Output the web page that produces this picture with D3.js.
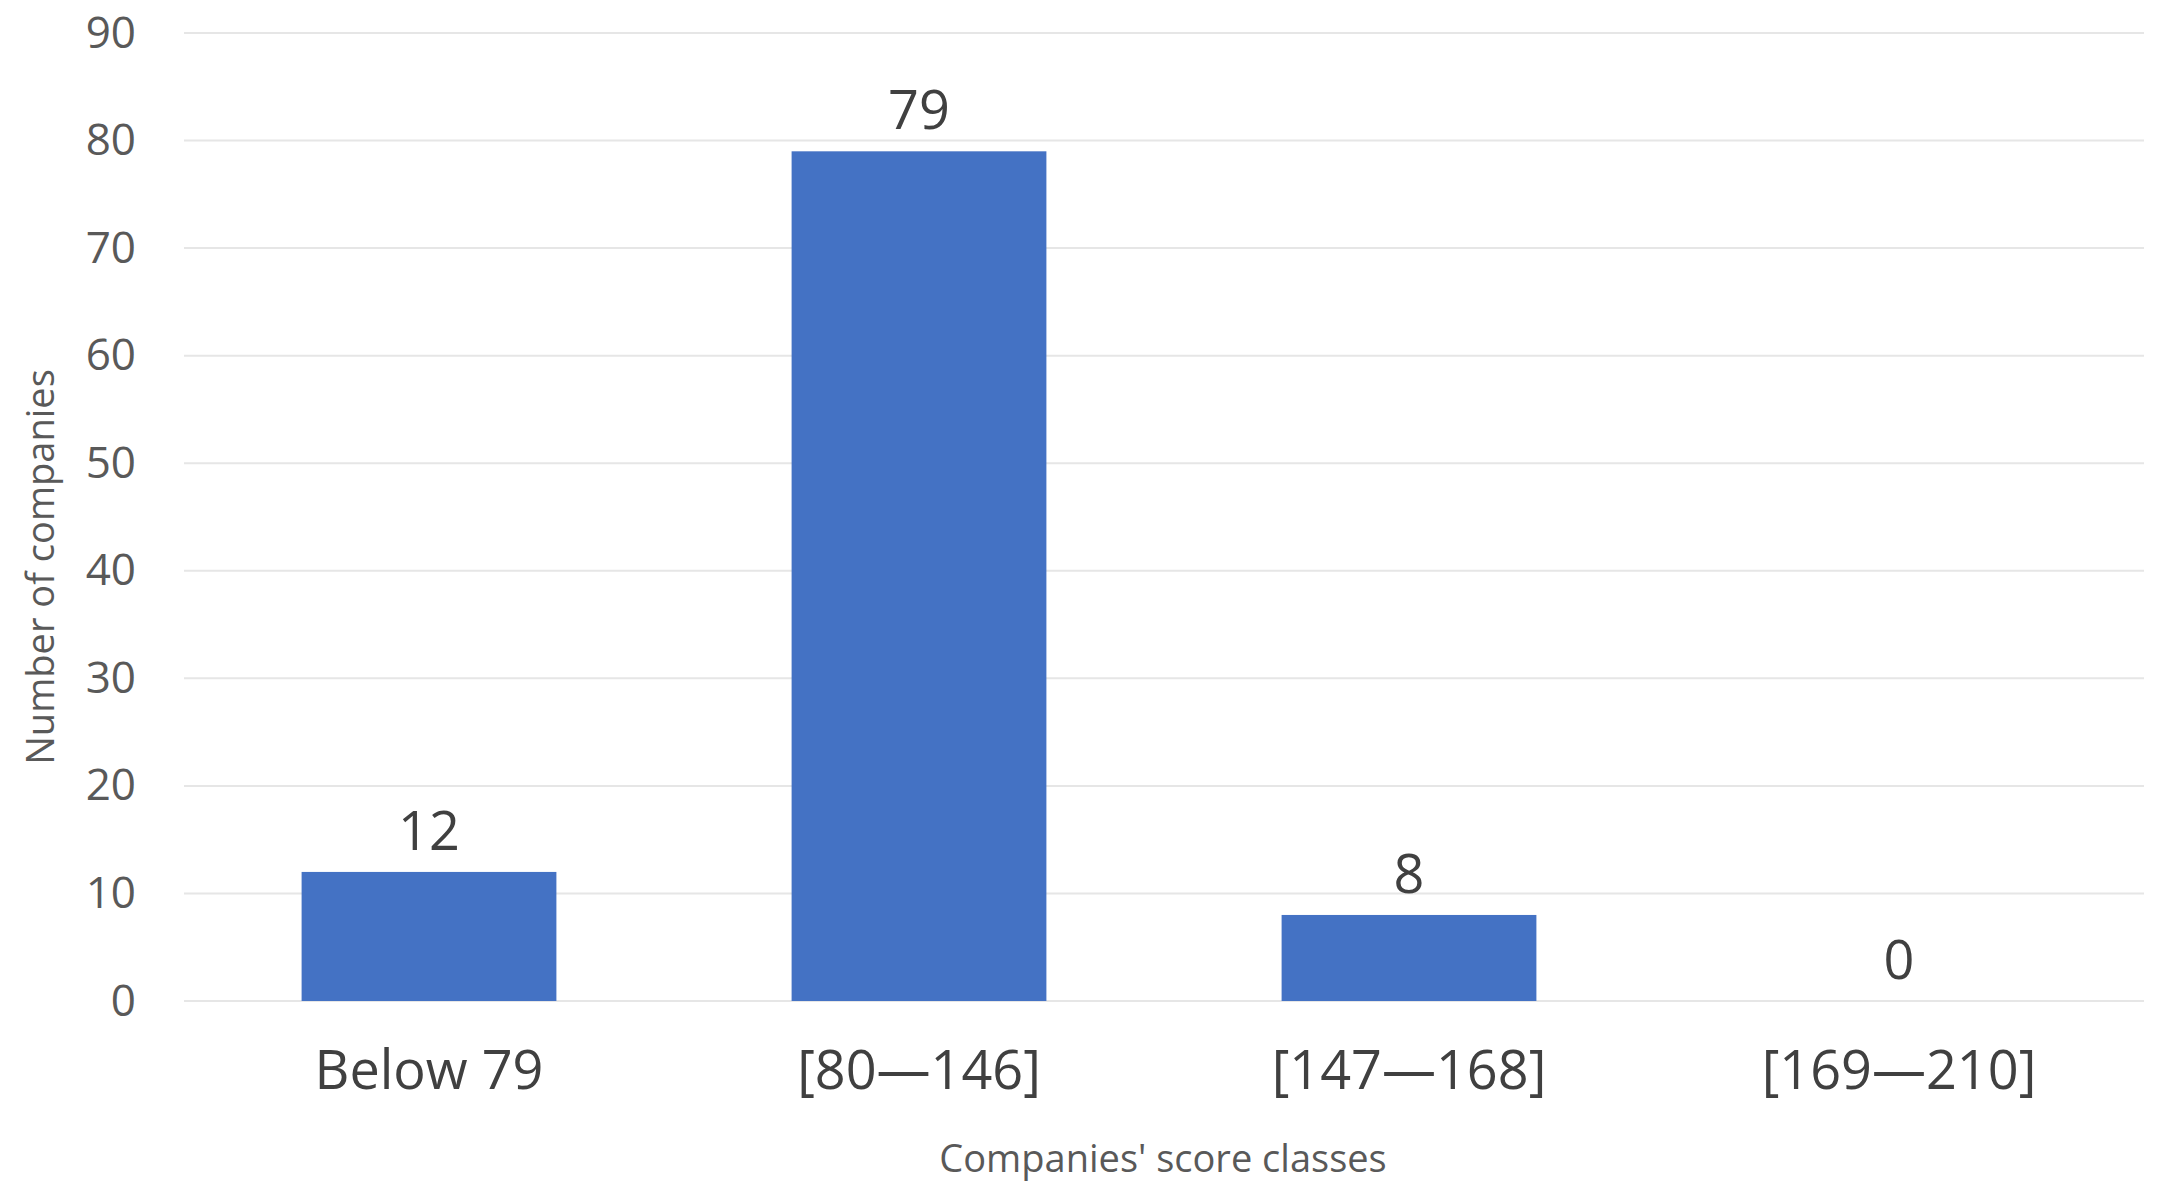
<!DOCTYPE html>
<html>
<head>
<meta charset="utf-8">
<script src="https://cdn.jsdelivr.net/npm/d3@7"></script>
<style>
  body { margin: 0; background: #fff; }
  text { font-family: "Open Sans", "Noto Sans", sans-serif; }
</style>
</head>
<body>
<svg id="chart" width="2162" height="1189"></svg>
<script>
  // data
  const categories = ['Below 79', '[80\u2014146]', '[147\u2014168]', '[169\u2014210]']
  const counts = [12, 79, 8, 0]
  const yTicks = [0, 10, 20, 30, 40, 50, 60, 70, 80, 90]

  const svg = d3.select('#chart')
  const plotLeft = 184
  const plotRight = 2144
  const plotTop = 33
  const plotBottom = 1001

  const x = d3.scaleBand().domain(categories).range([plotLeft, plotRight]).paddingInner(0.48).paddingOuter(0.24)
  const y = d3.scaleLinear().domain([0, 90]).range([plotBottom, plotTop])

  // grid
  svg.append('g').selectAll('line').data(yTicks).join('line')
    .attr('x1', plotLeft).attr('x2', plotRight)
    .attr('y1', d => y(d)).attr('y2', d => y(d))
    .style('stroke', '#e6e6e6').style('stroke-width', 2)

  const yAxis = svg.append('g')
    .attr('transform', `translate(${plotLeft - 48},0)`)
    .call(d3.axisLeft(y).tickValues(yTicks).tickSize(0).tickPadding(0))
  yAxis.select('.domain').remove()
  yAxis.selectAll('text').style('font-size', '44px').style('fill', '#595959')

  svg.append('g').selectAll('rect').data(counts).join('rect')
    .attr('x', (d, i) => x(categories[i]))
    .attr('width', x.bandwidth())
    .attr('y', d => y(d))
    .attr('height', d => y(0) - y(d))
    .style('fill', '#4472C4')

  svg.append('g').selectAll('text').data(counts).join('text')
    .attr('x', (d, i) => x(categories[i]) + x.bandwidth() / 2)
    .attr('y', d => y(d) - 22)
    .style('text-anchor', 'middle')
    .style('font-size', '54px')
    .style('fill', '#404040')
    .text(d => d)

  const xAxis = svg.append('g')
    .attr('transform', `translate(0,${plotBottom})`)
    .call(d3.axisBottom(x).tickSize(0).tickPadding(50))
  xAxis.select('.domain').remove()
  xAxis.selectAll('text').style('font-size', '54px').style('fill', '#404040')

  svg.append('text')
    .attr('x', 1163).attr('y', 1172)
    .style('text-anchor', 'middle')
    .style('font-size', '38px')
    .style('fill', '#595959')
    .text("Companies' score classes")

  svg.append('text')
    .attr('transform', `translate(54,${(plotTop + plotBottom) / 2 + 50}) rotate(-90)`)
    .style('text-anchor', 'middle')
    .style('font-size', '38px')
    .style('fill', '#595959')
    .text('Number of companies')
</script>
</body>
</html>
